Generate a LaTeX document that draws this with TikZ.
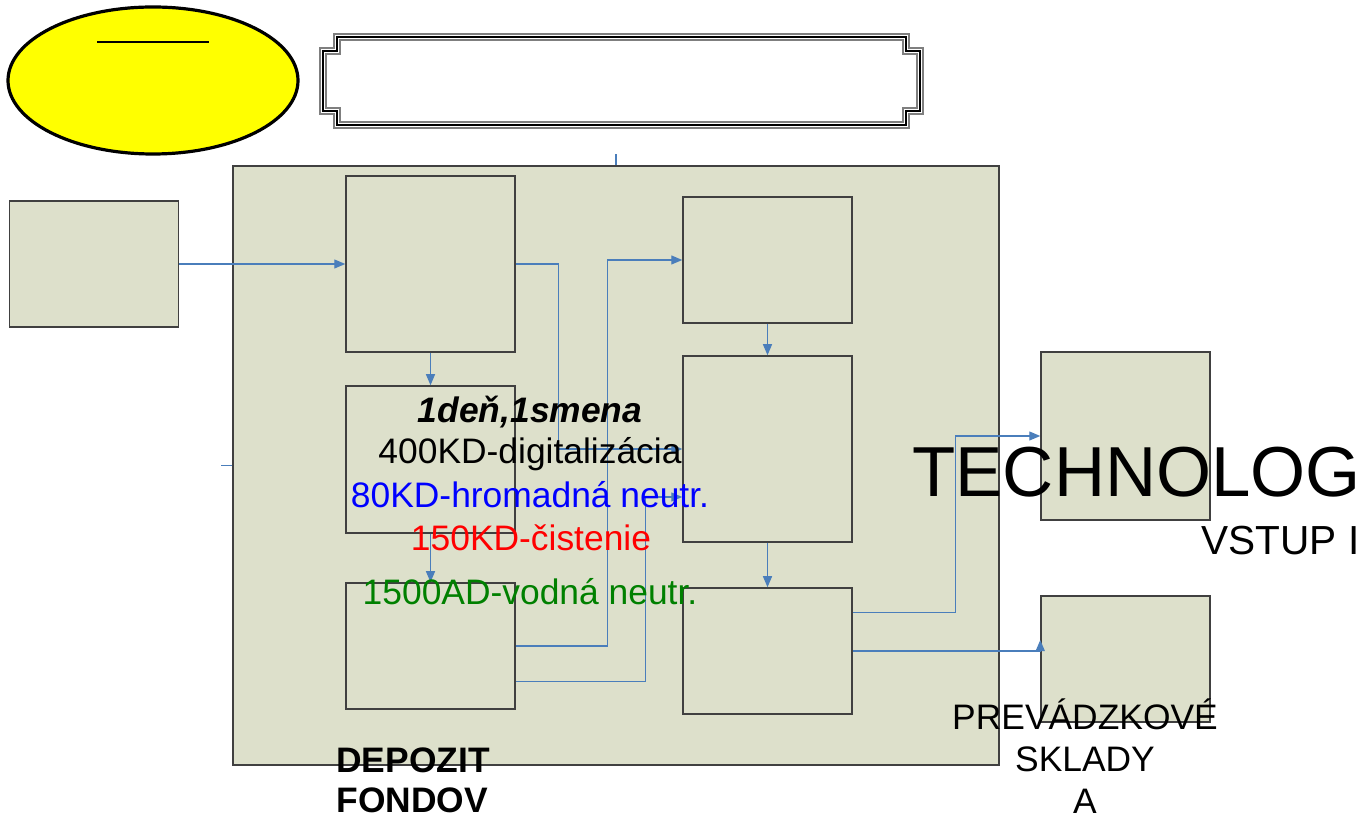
\documentclass[tikz,border=0pt]{standalone}
\usepackage{fontspec}
\setmainfont{Liberation Sans}
\usetikzlibrary{arrows.meta,shapes.geometric,calc}
\definecolor{depBeige}{HTML}{DDE0CB}
\definecolor{depEdge}{HTML}{404040}
\definecolor{depBlue}{HTML}{4A7EBB}
\definecolor{depYellow}{HTML}{FFFF00}
\definecolor{depFrame}{HTML}{7F7F7F}
\definecolor{depTxtBlue}{HTML}{0000FF}
\definecolor{depTxtRed}{HTML}{FF0000}
\definecolor{depTxtGreen}{HTML}{008000}
\tikzset{
  dep area/.style={draw=depEdge, fill=depBeige, line width=0.75pt, minimum width=383pt, minimum height=299.5pt, inner sep=0pt},
  dep box/.style={draw=depEdge, fill=depBeige, line width=0.75pt, minimum width=84.5pt, minimum height=63pt, inner sep=0pt},
  dep badge/.style={ellipse, draw=black, fill=depYellow, line width=1.6pt, minimum width=145pt, minimum height=73.5pt, inner sep=0pt},
  dep link/.style={draw=depBlue, line width=0.6pt, -{Triangle[length=5.5pt,width=4.5pt]}},
  dep stub/.style={draw=depBlue, line width=0.6pt},
  dep text/.style={font=\fontsize{17.7}{21}\selectfont, anchor=base, inner sep=0pt},
  dep big/.style={font=\fontsize{35.4}{40}\selectfont, anchor=base west, inner sep=0pt},
  dep sub/.style={font=\fontsize{20.3}{24}\selectfont, anchor=base west, inner sep=0pt},
}

\begin{document}
\begin{tikzpicture}[x=0.5pt,y=-0.5pt]
  \useasboundingbox (0,0) rectangle (1364,822);
  % title badge
  \node[dep badge] (badge) at (153,80.5) {};
  \draw[line width=0.9pt] (97,42) -- (209,42);
  % framed title plate, three nested outlines
  \foreach \o/\c in {0/depFrame,3/black,6/depFrame}
    \draw[draw=\c, line width=0.6pt]
      (334+\o,34+\o) -- (909-\o,34+\o) -- (909-\o,48+\o) -- (923-\o,48+\o)
      -- (923-\o,114-\o) -- (909-\o,114-\o) -- (909-\o,128-\o) -- (334+\o,128-\o)
      -- (334+\o,114-\o) -- (320+\o,114-\o) -- (320+\o,48+\o) -- (334+\o,48+\o) -- cycle;
  % depot area
  \node[dep area] (depot) at (616,465.5) {};
  \draw[dep stub] (depot.north) -- ++(0,-11);
  \draw[dep stub] (depot.west) -- ++(-11,0);
  % boxes
  \node[dep box] (L) at (94,264) {};
  \node[dep box, minimum height=88pt] (A) at (430.5,264) {};
  \node[dep box, minimum height=73.5pt] (B) at (430.5,459.5) {};
  \node[dep box] (C) at (430.5,646) {};
  \node[dep box] (D) at (767.5,260) {};
  \node[dep box, minimum height=93pt] (E) at (767.5,449) {};
  \node[dep box] (F) at (767.5,651) {};
  \node[dep box, minimum height=84pt] (G) at (1125.5,436) {};
  \node[dep box] (H) at (1125.5,659) {};
  % connectors
  \draw[dep link] (L.east) -- (A.west);
  \draw[dep link] (A.south) -- (B.north);
  \draw[dep link] (B.south) -- (C.north);
  \draw[dep link] (A.east) -- ++(43,0) |- (E.west);
  \draw[dep link] (C.east) -- ++(92,0) |- (D.west);
  \draw[dep link] ($(C.south east)+(0,-28)$) -- ++(130,0) |- ($(E.west)+(0,48)$);
  \draw[dep link] (D.south) -- (E.north);
  \draw[dep link] (E.south) -- (F.north);
  \draw[dep link] ($(F.north east)+(0,25)$) -- ++(103,0) |- (G.west);
  \draw[dep link] (F.east) -| ($(H.west)+(0,-19)$);
  % capacity notes
  \node[dep text, font=\fontsize{17.7}{21}\selectfont\bfseries\itshape] (n1) at (530,423) {1deň,1smena};
  \node[dep text] (n2) at (530,464) {400KD-digitalizácia};
  \node[dep text, text=depTxtBlue] (n3) at (530,508) {80KD-hromadná neutr.};
  \node[dep text, text=depTxtRed] (n4) at (531,551) {150KD-čistenie};
  \node[dep text, text=depTxtGreen] (n5) at (530,604) {1500AD-vodná neutr.};
  % area labels
  \node[dep big] (tech) at (912,497) {TECHNOLOG};
  \node[dep sub] (vstup) at (1201,555) {VSTUP I};
  \node[dep text] (sk1) at (1085,729) {PREVÁDZKOVÉ};
  \node[dep text] (sk2) at (1085,771) {SKLADY};
  \node[dep text] (sk3) at (1085,813) {A};
  \node[dep text, anchor=base west, font=\fontsize{17.7}{21}\selectfont\bfseries] (dep1) at (336,772) {DEPOZIT};
  \node[dep text, anchor=base west, font=\fontsize{17.7}{21}\selectfont\bfseries] (dep2) at (336,812) {FONDOV};
\end{tikzpicture}
\end{document}
